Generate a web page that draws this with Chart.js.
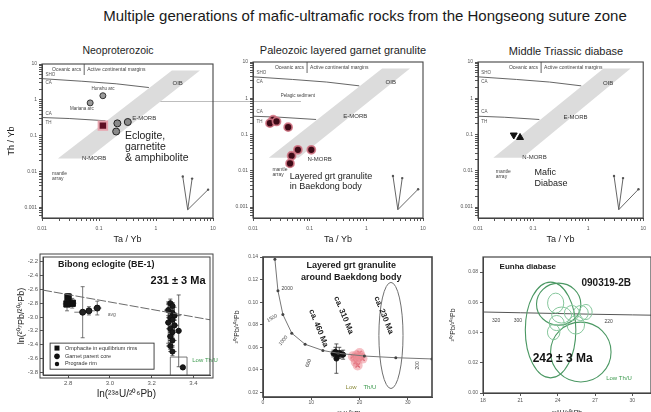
<!DOCTYPE html>
<html><head><meta charset="utf-8">
<script src="https://cdn.jsdelivr.net/npm/chart.js@4.4.1/dist/chart.umd.min.js"></script>
<style>
html,body{margin:0;padding:0;background:#fff;}
body{width:651px;height:412px;overflow:hidden;position:relative;font-family:"Liberation Sans",Arial,sans-serif;color:#1e1e1e;}
canvas{position:absolute;}
.lbl{position:absolute;white-space:nowrap;transform:translate(-50%,-50%);line-height:1;}
.hline{position:absolute;height:1px;background:#bdbdbd;}
</style></head><body>
<div class="lbl" style="left:365px;top:15px;font-size:15px;color:#1a1a1a">Multiple generations of mafic-ultramafic rocks from the Hongseong suture zone</div>
<div class="lbl" style="left:118px;top:50px;font-size:10.5px">Neoproterozoic</div>
<div class="lbl" style="left:343px;top:50px;font-size:11px">Paleozoic layered garnet granulite</div>
<div class="lbl" style="left:566px;top:51px;font-size:11px">Middle Triassic diabase</div>
<div class="hline" style="left:133px;top:101px;width:168px"></div>
<canvas id="c1"></canvas><canvas id="c2"></canvas><canvas id="c3"></canvas>
<canvas id="c4"></canvas><canvas id="c5"></canvas><canvas id="c6"></canvas>
<script>
// ================= DATA =================
// --- Top row: Th/Yb vs Ta/Yb (log-log) ---
const taYbTicks = [0.01, 0.1, 1, 10];
const thYbTicks = [0.001, 0.01, 0.1, 1, 10];
const mantleArrayTaYb = [0.019, 0.064, 5.9, 1.9];
const mantleArrayThYb = [0.023, 0.023, 6.6, 6.6];
const shoCaTaYb = [0.01, 0.05, 0.2, 0.75];
const shoCaThYb = [3.9, 3.3, 2.8, 2.2];
const caThTaYb = [0.01, 0.03, 0.13];
const caThThYb = [0.32, 0.30, 0.26];
const vectorTaYb = [3.6, 2.95, 4.3, 8.2];       // origin, then three vector ends
const vectorThYb = [0.00085, 0.0072, 0.0063, 0.0031];

// Neoproterozoic
const neoEclogiteTaYb = [0.117];
const neoEclogiteThYb = [0.19];
const neoGarnetiteTaYb = [0.21, 0.32, 0.20];
const neoGarnetiteThYb = [0.22, 0.24, 0.13];
const neoRefTaYb = [0.117, 0.07];
const neoRefThYb = [1.3, 0.82];
const neoRefNames = ['Honshu arc', 'Mariana arc'];

// Paleozoic layered garnet granulite
const granuliteTaYb = [0.0227, 0.0199, 0.026, 0.0417, 0.062, 0.048, 0.107, 0.045];
const granuliteThYb = [0.256, 0.206, 0.23, 0.16, 0.038, 0.026, 0.038, 0.016];

// Middle Triassic diabase
const diabaseTaYb = [0.0446, 0.058];
const diabaseThYb = [0.097, 0.083];

// --- Bibong eclogite (BE-1): ln(207Pb/206Pb) vs ln(238U/206Pb) ---
const lnUTicks = [2.8, 3.0, 3.2, 3.4];
const lnPbTicks = [-2.2, -2.4, -2.6, -2.8, -3.0, -3.2, -3.4, -3.6, -3.8];
const isochronLnU = [2.68, 3.48];
const isochronLnPb = [-2.61, -3.04];
const omphLnU = [2.80, 2.82, 2.795];
const omphLnPb = [-2.71, -2.80, -2.81];
const omphErrU = [0.015, 0.02, 0.02];
const omphErrPb = [0.05, 0.07, 0.10];
const grtLnU = [2.87, 2.90, 2.94];
const grtLnPb = [-2.93, -2.91, -2.87];
const grtErrU = [0.04, 0.03, 0.02];
const grtErrPb = [0.37, 0.06, 0.10];
const rimLnU = [3.29, 3.30, 3.28, 3.30, 3.31, 3.29, 3.30, 3.28, 3.31, 3.29, 3.30, 3.29, 3.30, 3.29, 3.30, 3.33, 3.35];
const rimLnPb = [-2.80, -2.84, -2.90, -2.94, -2.98, -3.01, -3.04, -3.08, -3.12, -3.17, -3.22, -3.28, -3.34, -3.42, -3.50, -3.20, -3.73];
const rimErrU = [0.02, 0.015, 0.02, 0.02, 0.03, 0.02, 0.02, 0.015, 0.02, 0.02, 0.02, 0.015, 0.02, 0.02, 0.02, 0.01, 0.01];
const rimErrPb = [0.06, 0.05, 0.08, 0.04, 0.12, 0.05, 0.06, 0.30, 0.07, 0.05, 0.08, 0.06, 0.07, 0.05, 0.06, 0.52, 0.03];
const bbLegend = ['Omphacite in equilibrium rims', 'Garnet parent core', 'Prograde rim'];

// --- Layered grt granulite around Baekdong body: Tera-Wasserburg ---
const twUTicks = [0, 10, 20, 30];
const twPbTicks = [0.02, 0.04, 0.06, 0.08, 0.10, 0.12, 0.14];
const twConcordiaU = [2.46, 3.10, 4.12, 5.96, 8.72, 12.4, 15.6, 21.0, 27.5, 35];
const twConcordiaPb = [0.138, 0.110, 0.089, 0.0725, 0.0627, 0.0572, 0.0547, 0.0523, 0.0508, 0.0497];
const bdBlackU = [14.6, 15.0, 15.4, 15.8, 16.2, 16.6, 15.2];
const bdBlackPb = [0.0545, 0.0560, 0.0530, 0.0550, 0.0540, 0.0535, 0.0500];
const bdBlackErrPb = [0.003, 0.004, 0.003, 0.005, 0.003, 0.004, 0.013];
const bdRedU = [18.6, 19.0, 19.4, 19.8, 20.2, 20.6, 19.2, 20.0, 19.6];
const bdRedPb = [0.052, 0.0505, 0.053, 0.051, 0.0525, 0.050, 0.047, 0.055, 0.044];
const bdEllipse = {u: 26.5, pb: 0.0705, du: 2.5, dpb: 0.047};

// --- Eunha diabase 090319-2B: Tera-Wasserburg ---
const ehUTicks = [18, 21, 24, 27, 30];
const ehPbTicks = [0.00, 0.02, 0.04, 0.06, 0.08];
const ehConcordiaU = [18, 21, 24, 27, 30, 31.5];
const ehConcordiaPb = [0.0536, 0.0531, 0.0526, 0.0521, 0.0517, 0.0515];
const ehSpotU   = [23.43, 25.86, 24.08, 23.84, 24.32, 25.14, 25.86, 26.27, 23.92, 23.68, 25.46];
const ehSpotPb  = [0.0417, 0.0271, 0.0588, 0.0595, 0.0516, 0.0529, 0.0529, 0.0536, 0.0463, 0.0403, 0.0450];
const ehSpotDU  = [2.03, 2.43, 1.78, 0.65, 0.8, 0.6, 0.6, 0.5, 0.6, 0.5, 0.7];
const ehSpotDPb = [0.0317, 0.0198, 0.0139, 0.0066, 0.0053, 0.005, 0.005, 0.005, 0.005, 0.005, 0.006];

// ================= HELPERS =================
const FONT = '"Liberation Sans", Arial, Helvetica, sans-serif';
Chart.defaults.font.family = FONT;
Chart.defaults.color = '#444';

const pts = (xs, ys) => xs.map((v, i) => ({x: v, y: ys[i]}));
function P(ch, x, y) { return [ch.scales.x.getPixelForValue(x), ch.scales.y.getPixelForValue(y)]; }
function text(ctx, s, x, y, o = {}) {
  ctx.save();
  ctx.font = (o.bold ? 'bold ' : '') + (o.size || 6) + 'px ' + FONT;
  ctx.fillStyle = o.color || '#333';
  ctx.textAlign = o.align || 'left';
  ctx.textBaseline = 'middle';
  ctx.translate(x, y);
  if (o.rot) ctx.rotate(o.rot * Math.PI / 180);
  ctx.fillText(s, 0, 0);
  ctx.restore();
}
function dtext(ch, s, x, y, o) { const [a, b] = P(ch, x, y); text(ch.ctx, s, a, b, o); }
function path(ch, xs, ys, close) {
  const ctx = ch.ctx; ctx.beginPath();
  xs.forEach((v, i) => { const [a, b] = P(ch, v, ys[i]); i ? ctx.lineTo(a, b) : ctx.moveTo(a, b); });
  if (close) ctx.closePath();
}
function clipArea(ch) { const c = ch.chartArea; ch.ctx.beginPath(); ch.ctx.rect(c.left, c.top, c.right - c.left, c.bottom - c.top); ch.ctx.clip(); }
function frame(ch, w, col, dbl) {
  const c = ch.chartArea, ctx = ch.ctx; ctx.save(); ctx.strokeStyle = col; ctx.lineWidth = w;
  ctx.strokeRect(c.left, c.top, c.right - c.left, c.bottom - c.top);
  if (dbl) ctx.strokeRect(c.left - 3, c.top - 3, c.right - c.left + 6, c.bottom - c.top + 6);
  ctx.restore();
}
function errBars(ch, xs, ys, ex, ey, col) {
  const ctx = ch.ctx; ctx.save(); ctx.strokeStyle = col; ctx.lineWidth = 0.8;
  xs.forEach((v, i) => {
    const [x0, y0] = P(ch, v - ex[i], ys[i]), [x1] = P(ch, v + ex[i], ys[i]);
    const [, ya] = P(ch, v, ys[i] - ey[i]), [xm, yb] = P(ch, v, ys[i] + ey[i]);
    ctx.beginPath(); ctx.moveTo(x0, y0); ctx.lineTo(x1, y0); ctx.moveTo(xm, ya); ctx.lineTo(xm, yb);
    ctx.moveTo(xm - 2, ya); ctx.lineTo(xm + 2, ya); ctx.moveTo(xm - 2, yb); ctx.lineTo(xm + 2, yb);
    ctx.stroke();
  });
  ctx.restore();
}
function ellipse(ch, cx, cy, rx, ry) {
  const [a, b] = P(ch, cx, cy), [a2] = P(ch, cx + rx, cy), [, b2] = P(ch, cx, cy + ry);
  ch.ctx.beginPath(); ch.ctx.ellipse(a, b, Math.abs(a2 - a), Math.abs(b - b2), 0, 0, 2 * Math.PI);
}
function logTicks(decades, min, max) {
  const t = decades.map(v => ({value: v, major: true}));
  const lo = Math.floor(Math.log10(min)), hi = Math.ceil(Math.log10(max));
  for (let e = lo; e < hi; e++) for (let k = 2; k <= 9; k++) {
    const v = k * Math.pow(10, e); if (v > min && v < max) t.push({value: v, major: false});
  }
  return t.sort((a, b) => a.value - b.value);
}
function linAxis(min, max, ticks, dec, size, pad, title) {
  return {type: 'linear', min, max,
    afterBuildTicks: s => { s.ticks = ticks.map(v => ({value: v})); },
    ticks: {autoSkip: false, maxRotation: 0, font: {size}, color: '#555', padding: pad, callback: v => v.toFixed(dec)},
    grid: {drawOnChartArea: false, tickLength: 3, color: '#555'},
    border: {color: '#444', width: 1},
    title: title};
}
function mk(id, box, o) {
  const c = document.getElementById(id);
  c.width = box.r - box.l + o.yW + o.padR; c.height = box.b - box.t + o.padT + o.xH;
  c.style.left = (box.l - o.yW) + 'px'; c.style.top = (box.t - o.padT) + 'px';
  o.scales.x.afterFit = s => { s.height = o.xH; };
  o.scales.y.afterFit = s => { s.width = o.yW; };
  return new Chart(c, {type: 'scatter', data: {datasets: o.datasets},
    options: {responsive: false, animation: false, events: [],
      layout: {padding: {top: o.padT, right: o.padR, left: 0, bottom: 0}},
      plugins: {legend: {display: false}, tooltip: {enabled: false}},
      scales: o.scales},
    plugins: [o.plugin]});
}

// ================= TOP ROW =================
function pearceScales(showTitle) {
  return {
    x: {type: 'logarithmic', min: 0.01, max: 10,
      afterBuildTicks: s => { s.ticks = logTicks(taYbTicks, 0.01, 10); },
      ticks: {autoSkip: false, maxRotation: 0, font: {size: 5}, color: '#555', padding: 5, callback: (v, i, t) => t[i].major ? String(v) : ''},
      grid: {drawOnChartArea: false, tickLength: 3, color: '#555'},
      border: {color: '#444', width: 1},
      title: {display: true, text: 'Ta / Yb', font: {size: 9}, color: '#222', padding: {top: 0, bottom: 0}}},
    y: {type: 'logarithmic', min: 0.0005, max: 10,
      afterBuildTicks: s => { s.ticks = logTicks(thYbTicks, 0.0005, 10); },
      ticks: {autoSkip: false, font: {size: 5}, color: '#555', padding: 2, callback: (v, i, t) => t[i].major ? String(v) : ''},
      grid: {drawOnChartArea: false, tickLength: 3, color: '#555'},
      border: {color: '#444', width: 1},
      title: {display: showTitle, text: 'Th / Yb', font: {size: 9}, color: '#222', padding: {top: 0, bottom: 0}}}
  };
}
const pearceLabels = [
  {oib: [2.4, 2.8], emorb: [0.62, 0.31], nmorb: [0.082, 0.023], mantle: [0.015, 0.0088], divider: 0.055},
  {oib: [2.7, 2.8], emorb: [0.64, 0.31], nmorb: [0.15, 0.021], mantle: [0.022, 0.011], divider: 0.09},
  {oib: [2.3, 2.6], emorb: [0.59, 0.30], nmorb: [0.106, 0.023], mantle: [0.021, 0.0095], divider: 0.14}
];
function pearcePlugin(k, extra) {
  const L = pearceLabels[k];
  return {id: 'pearce' + k,
    beforeDatasetsDraw(ch) {
      const ctx = ch.ctx, ca = ch.chartArea;
      ctx.save(); clipArea(ch);
      path(ch, mantleArrayTaYb, mantleArrayThYb, true); ctx.fillStyle = '#dcdcdc'; ctx.fill();
      ctx.strokeStyle = '#555'; ctx.lineWidth = 0.9;
      path(ch, shoCaTaYb, shoCaThYb); ctx.stroke();
      path(ch, caThTaYb, caThThYb); ctx.stroke();
      for (let i = 1; i < vectorTaYb.length; i++) {
        path(ch, [vectorTaYb[0], vectorTaYb[i]], [vectorThYb[0], vectorThYb[i]]); ctx.stroke();
        const [a, b] = P(ch, vectorTaYb[i], vectorThYb[i]);
        ctx.beginPath(); ctx.arc(a, b, 1.2, 0, 7); ctx.fillStyle = '#555'; ctx.fill();
      }
      const [dx] = P(ch, L.divider, 1);
      ctx.beginPath(); ctx.moveTo(dx, ca.top); ctx.lineTo(dx, ca.top + 11); ctx.stroke();
      ctx.restore();
      text(ctx, 'Oceanic arcs', dx - 3, ca.top + 6, {size: 5, align: 'right', color: '#444'});
      text(ctx, 'Active continental margins', dx + 3, ca.top + 6, {size: 5, color: '#444'});
      dtext(ch, 'SHO', 0.0115, 4.9, {size: 4.5, color: '#555'});
      dtext(ch, 'CA', 0.0115, 2.9, {size: 4.5, color: '#555'});
      dtext(ch, 'CA', 0.0115, 0.42, {size: 4.5, color: '#555'});
      dtext(ch, 'TH', 0.0115, 0.23, {size: 4.5, color: '#555'});
      dtext(ch, 'OIB', L.oib[0], L.oib[1], {size: 6, align: 'center', color: '#333'});
      dtext(ch, 'E-MORB', L.emorb[0], L.emorb[1], {size: 6, align: 'center', color: '#333'});
      dtext(ch, 'N-MORB', L.nmorb[0], L.nmorb[1], {size: 6, align: 'center', color: '#333'});
      dtext(ch, 'mantle', L.mantle[0], L.mantle[1], {size: 5, color: '#444'});
      dtext(ch, 'array', L.mantle[0], L.mantle[1] * 0.72, {size: 5, color: '#444'});
    },
    afterDatasetsDraw(ch) { if (extra) extra(ch); frame(ch, 1.1, '#444'); }
  };
}
const boxTop = [{l: 42, t: 62, r: 213, b: 218}, {l: 253, t: 62, r: 423, b: 218}, {l: 478, t: 62, r: 646, b: 218}];

mk('c1', boxTop[0], {yW: 36, padT: 6, padR: 8, xH: 27, scales: pearceScales(true),
  datasets: [
    {data: pts(neoRefTaYb, neoRefThYb), pointRadius: 3, backgroundColor: '#9a9a9a', borderColor: '#333', borderWidth: 1},
    {data: pts(neoGarnetiteTaYb, neoGarnetiteThYb), pointRadius: 3.5, backgroundColor: '#8a8a8a', borderColor: '#222', borderWidth: 1},
    {data: pts(neoEclogiteTaYb, neoEclogiteThYb), pointStyle: 'rect', pointRadius: 6, backgroundColor: '#5e0f22', borderColor: '#e7a3ad', borderWidth: 2}
  ],
  plugin: pearcePlugin(0, ch => {
    dtext(ch, neoRefNames[0], neoRefTaYb[0], 2.05, {size: 4.5, align: 'center', color: '#444'});
    dtext(ch, neoRefNames[1], 0.05, 0.56, {size: 4.5, align: 'center', color: '#444'});
    dtext(ch, 'Eclogite,', 0.285, 0.097, {size: 10.5, color: '#222'});
    dtext(ch, 'garnetite', 0.285, 0.047, {size: 10.5, color: '#222'});
    dtext(ch, '& amphibolite', 0.285, 0.023, {size: 10.5, color: '#222'});
  })});

mk('c2', boxTop[1], {yW: 22, padT: 6, padR: 8, xH: 27, scales: pearceScales(false),
  datasets: [
    {data: pts(granuliteTaYb, granuliteThYb), pointRadius: 4, backgroundColor: '#3d0a16', borderColor: 'rgba(214,120,135,0.85)', borderWidth: 1.8}
  ],
  plugin: pearcePlugin(1, ch => {
    dtext(ch, 'Pelagic sediment', 0.062, 1.15, {size: 4.5, align: 'center', color: '#444'});
    dtext(ch, 'Layered grt granulite', 0.0446, 0.0068, {size: 9, color: '#222'});
    dtext(ch, 'in Baekdong body', 0.0446, 0.0036, {size: 9, color: '#222'});
  })});

mk('c3', boxTop[2], {yW: 22, padT: 6, padR: 5, xH: 27, scales: pearceScales(false),
  datasets: [
    {data: pts([diabaseTaYb[0]], [diabaseThYb[0]]), pointStyle: 'triangle', rotation: 180, pointRadius: 4, backgroundColor: '#111', borderColor: '#111'},
    {data: pts([diabaseTaYb[1]], [diabaseThYb[1]]), pointStyle: 'triangle', pointRadius: 4, backgroundColor: '#111', borderColor: '#111'}
  ],
  plugin: pearcePlugin(2, ch => {
    dtext(ch, 'Mafic', 0.106, 0.0088, {size: 9, color: '#222'});
    dtext(ch, 'Diabase', 0.106, 0.0046, {size: 9, color: '#222'});
  })});

// ================= BOTTOM ROW =================
// Bibong eclogite
mk('c4', {l: 43, t: 257, r: 210, b: 375}, {yW: 33, padT: 6, padR: 8, xH: 25,
  scales: {
    x: linAxis(2.68, 3.48, lnUTicks, 1, 6, 2, {display: true, text: 'ln(²³⁸U/²⁰⁶Pb)', font: {size: 10}, color: '#222', padding: {top: 0, bottom: 0}}),
    y: linAxis(-3.84, -2.13, lnPbTicks, 1, 6, 2, {display: true, text: 'ln(²⁰⁷Pb/²⁰⁶Pb)', font: {size: 9}, color: '#222', padding: {top: 6, bottom: 0}})
  },
  datasets: [
    {data: pts(isochronLnU, isochronLnPb), showLine: true, pointRadius: 0, borderColor: '#6a6a6a', borderWidth: 1, borderDash: [9, 2]},
    {data: pts(omphLnU, omphLnPb), pointStyle: 'rect', pointRadius: 4.5, backgroundColor: '#111', borderColor: '#111'},
    {data: pts(grtLnU, grtLnPb), pointRadius: 3, backgroundColor: '#222', borderColor: '#111'},
    {data: pts(rimLnU, rimLnPb), pointRadius: 2.6, backgroundColor: '#1a1a1a', borderColor: '#111'}
  ],
  plugin: {id: 'bb',
    beforeDatasetsDraw(ch) {
      ch.ctx.save(); clipArea(ch);
      errBars(ch, omphLnU, omphLnPb, omphErrU, omphErrPb, '#555');
      errBars(ch, grtLnU, grtLnPb, grtErrU, grtErrPb, '#555');
      errBars(ch, rimLnU, rimLnPb, rimErrU, rimErrPb, '#444');
      const ctx = ch.ctx; ctx.strokeStyle = '#555'; ctx.lineWidth = 0.8;
      path(ch, [3.29, 3.29, 3.37, 3.37], [-3.9, -3.58, -3.58, -3.9]); ctx.stroke();
      ch.ctx.restore();
    },
    afterDatasetsDraw(ch) {
      const ctx = ch.ctx;
      dtext(ch, 'Bibong eclogite (BE-1)', 2.752, -2.243, {size: 9, bold: true, color: '#1a1a1a'});
      dtext(ch, '231 ± 3 Ma', 3.327, -2.476, {size: 11, bold: true, color: '#111', align: 'center'});
      dtext(ch, 'Low Th/U', 3.395, -3.625, {size: 6, color: '#3c9a4e'});
      dtext(ch, 'avg', 2.99, -2.97, {size: 5, color: '#666'});
      // inset legend
      const [l, t] = P(ch, 2.714, -3.378), [r, b] = P(ch, 3.212, -3.756);
      ctx.save(); ctx.fillStyle = '#fff'; ctx.fillRect(l, t, r - l, b - t);
      ctx.strokeStyle = '#333'; ctx.lineWidth = 0.9; ctx.strokeRect(l, t, r - l, b - t); ctx.restore();
      const rows = [-3.45, -3.57, -3.68];
      bbLegend.forEach((s, i) => {
        const [mx, my] = P(ch, 2.747, rows[i]);
        ctx.save(); ctx.fillStyle = '#111';
        if (i === 0) ctx.fillRect(mx - 2.5, my - 2.5, 5, 5); else { ctx.beginPath(); ctx.arc(mx, my, i === 1 ? 2.8 : 2.2, 0, 7); ctx.fill(); }
        ctx.restore();
        dtext(ch, s, 2.785, rows[i], {size: 5.5, color: '#333'});
      });
      frame(ch, 1, '#444', true);
    }
  }});

// Layered grt granulite around Baekdong body
mk('c5', {l: 263, t: 257, r: 432, b: 397}, {yW: 30, padT: 6, padR: 8, xH: 21,
  scales: {
    x: linAxis(0, 35, twUTicks, 0, 5, 0, {display: true, text: '²³⁸U/²⁰⁶Pb', font: {size: 7}, color: '#222', padding: {top: 0, bottom: 0}}),
    y: linAxis(0.016, 0.14, twPbTicks, 2, 5, 2, {display: true, text: '²⁰⁷Pb/²⁰⁶Pb', font: {size: 7}, color: '#222', padding: {top: 0, bottom: 0}})
  },
  datasets: [
    {data: pts(twConcordiaU, twConcordiaPb), showLine: true, pointRadius: 1.5, pointBackgroundColor: '#444', pointBorderWidth: 0, borderColor: '#777', borderWidth: 1},
    {data: pts(bdBlackU, bdBlackPb), pointRadius: 2.5, backgroundColor: '#111', borderColor: '#111'},
    {data: pts(bdRedU, bdRedPb), pointRadius: 5, backgroundColor: 'rgba(236,140,150,0.55)', borderWidth: 0},
    {data: pts(bdRedU, bdRedPb), pointStyle: 'crossRot', pointRadius: 3, borderColor: '#c0283a', borderWidth: 1.2}
  ],
  plugin: {id: 'bd',
    beforeDatasetsDraw(ch) {
      const ctx = ch.ctx; ctx.save(); clipArea(ch);
      ctx.strokeStyle = '#6f6f6f'; ctx.lineWidth = 1;
      ellipse(ch, bdEllipse.u, bdEllipse.pb, bdEllipse.du, bdEllipse.dpb); ctx.stroke();
      errBars(ch, bdBlackU, bdBlackPb, bdBlackU.map(() => 0.4), bdBlackErrPb, '#333');
      ctx.restore();
    },
    afterDatasetsDraw(ch) {
      dtext(ch, 'Layered grt granulite', 18.3, 0.1329, {size: 9, bold: true, color: '#1a1a1a', align: 'center'});
      dtext(ch, 'around Baekdong body', 18.3, 0.1222, {size: 9, bold: true, color: '#1a1a1a', align: 'center'});
      dtext(ch, 'ca. 460 Ma', 11.5, 0.0769, {size: 8, bold: true, color: '#1a1a1a', align: 'center', rot: 68});
      dtext(ch, 'ca. 310 Ma', 16.7, 0.0884, {size: 8, bold: true, color: '#1a1a1a', align: 'center', rot: 68});
      dtext(ch, 'ca. 230 Ma', 25.0, 0.0884, {size: 8, bold: true, color: '#1a1a1a', align: 'center', rot: 68});
      dtext(ch, '2000', 5.0, 0.1116, {size: 5, color: '#444', align: 'center'});
      dtext(ch, '1500', 1.9, 0.0858, {size: 5, color: '#444', align: 'center', rot: -30});
      dtext(ch, '1000', 4.2, 0.066, {size: 5, color: '#444', align: 'center', rot: -50});
      dtext(ch, '600', 9.4, 0.046, {size: 5, color: '#444', align: 'center', rot: -70});
      dtext(ch, '200', 32.1, 0.044, {size: 5, color: '#444', align: 'center', rot: -90});
      dtext(ch, 'Low', 17.1, 0.0244, {size: 6, color: '#8a8a3a'});
      dtext(ch, 'Th/U', 20.8, 0.0244, {size: 6, color: '#3c9a4e'});
      frame(ch, 1.6, '#444');
    }
  }});

// Eunha diabase
mk('c6', {l: 483, t: 257, r: 651, b: 393}, {yW: 34, padT: 6, padR: 0, xH: 24,
  scales: {
    x: linAxis(18, 31.5, ehUTicks, 0, 5, 2, {display: true, text: '²³⁸U/²⁰⁶Pb', font: {size: 7}, color: '#222', padding: {top: 0, bottom: 0}}),
    y: linAxis(0, 0.09, ehPbTicks, 2, 5, 2, {display: true, text: '²⁰⁷Pb/²⁰⁶Pb', font: {size: 7}, color: '#222', padding: {top: 0, bottom: 0}})
  },
  datasets: [
    {data: pts(ehConcordiaU, ehConcordiaPb), showLine: true, pointRadius: 0, borderColor: '#555', borderWidth: 1}
  ],
  plugin: {id: 'eh',
    afterDatasetsDraw(ch) {
      const ctx = ch.ctx; ctx.save(); clipArea(ch);
      ehSpotU.forEach((u, i) => {
        ctx.strokeStyle = i < 3 ? '#4b9863' : '#86c79c'; ctx.lineWidth = i < 3 ? 1.1 : 1;
        ellipse(ch, u, ehSpotPb[i], ehSpotDU[i], ehSpotDPb[i]); ctx.stroke();
      });
      ctx.restore();
      dtext(ch, '320', 19.05, 0.048, {size: 5, color: '#444', align: 'center'});
      dtext(ch, '300', 20.8, 0.048, {size: 5, color: '#444', align: 'center'});
      dtext(ch, '220', 28.1, 0.047, {size: 5, color: '#444', align: 'center'});
      dtext(ch, 'Eunha diabase', 21.6, 0.0833, {size: 8, bold: true, color: '#1a1a1a', align: 'center'});
      dtext(ch, '090319-2B', 27.9, 0.0727, {size: 10, bold: true, color: '#1a1a1a', align: 'center'});
      dtext(ch, '242 ± 3 Ma', 24.4, 0.023, {size: 12, bold: true, color: '#111', align: 'center'});
      dtext(ch, 'Low Th/U', 27.9, 0.0099, {size: 6, color: '#3c9a4e'});
      frame(ch, 1.2, '#444');
    }
  }});
</script>
</body></html>
